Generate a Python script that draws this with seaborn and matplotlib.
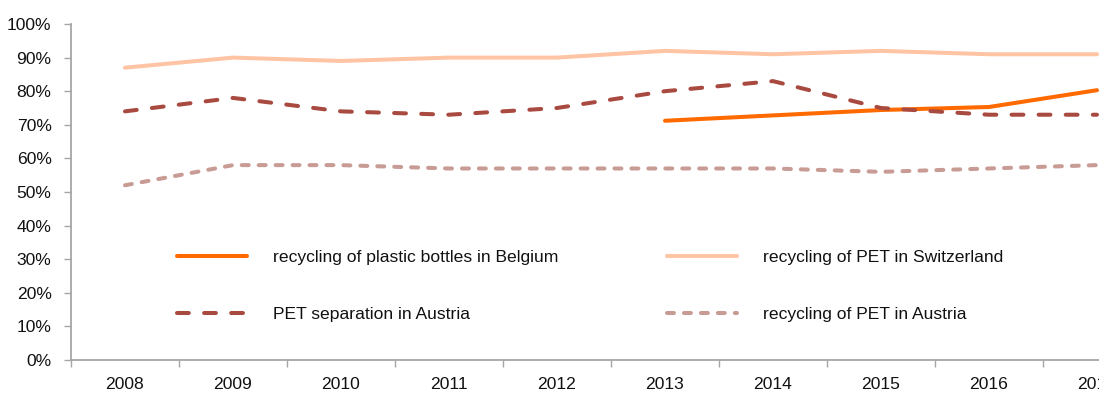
import matplotlib
matplotlib.use("Agg")
import matplotlib.pyplot as plt
import seaborn as sns
import pandas as pd
import numpy as np
from matplotlib.ticker import FixedLocator, FuncFormatter

years = ["2008", "2009", "2010", "2011", "2012", "2013", "2014", "2015", "2016", "2017"]
belgium_bottles = [None, None, None, None, None, 71.2, 72.8, 74.4, 75.3, 80.3]
swiss_pet = [87, 90, 89, 90, 90, 92, 91, 92, 91, 91]
austria_separation = [74, 78, 74, 73, 75, 80, 83, 75, 73, 73]
austria_pet = [52, 58, 58, 57, 57, 57, 57, 56, 57, 58]

series_names = [
    "recycling of plastic bottles in Belgium",
    "PET separation in Austria",
    "recycling of PET in Switzerland",
    "recycling of PET in Austria",
]
series_values = [belgium_bottles, austria_separation, swiss_pet, austria_pet]
colors = ["#FF6A00", "#A84A40", "#FFC4A4", "#C89B95"]
dash_styles = [None, (8.5, 11.0), None, (5.0, 7.2)]

sns.set_theme(style="white")
plt.rcParams["font.family"] = ["Liberation Sans", "DejaVu Sans"]
plt.rcParams["lines.scale_dashes"] = False
FS = 12.6

fig = plt.figure(figsize=(10.99, 3.95), dpi=100)
W, H = 1099, 395
# the plotting area runs past the right edge of the canvas
ax = fig.add_axes([71 / W, 35 / H, 1080 / W, 336 / H])

x = np.arange(len(years))
for name, vals, col, dash in zip(series_names, series_values, colors, dash_styles):
    df = pd.DataFrame({"x": x, "y": pd.array(vals, dtype="Float64").astype(float)})
    df = df.dropna()
    sns.lineplot(data=df, x="x", y="y", ax=ax, color=col, linewidth=2.9,
                 solid_capstyle="round", dash_capstyle="round", label=name)
    if dash is not None:
        ax.lines[-1].set_dashes(dash)
if ax.get_legend() is not None:
    ax.get_legend().remove()

ax.set_xlim(-0.5, len(years) - 0.5)
ax.set_ylim(0, 100)

# category boundaries carry the tick marks; labels sit at the centres
ax.xaxis.set_major_locator(FixedLocator(np.arange(-0.5, len(years), 1.0)))
ax.xaxis.set_minor_locator(FixedLocator(x))
ax.set_xticklabels([])
ax.set_xticklabels(years, minor=True)
ax.tick_params(axis="x", which="major", length=5, width=1, color="#A6A6A6",
               direction="out", bottom=True)
ax.tick_params(axis="x", which="minor", length=0, pad=12, labelsize=FS,
               labelcolor="#111111")

ax.set_yticks(np.arange(0, 101, 10))
ax.yaxis.set_major_formatter(FuncFormatter(lambda v, p: f"{int(v)}%"))
ax.tick_params(axis="y", length=5, width=1, color="#A6A6A6", direction="out",
               left=True, pad=9, labelsize=FS, labelcolor="#111111")

for side in ["top", "right"]:
    ax.spines[side].set_visible(False)
for side in ["left", "bottom"]:
    ax.spines[side].set_color("#A6A6A6")
    ax.spines[side].set_linewidth(1.3)

ax.set_xlabel("")
ax.set_ylabel("")
ax.grid(False)

handles, labels = ax.get_legend_handles_labels()
leg = fig.legend(handles, labels, ncol=2, loc="center left",
                 bbox_to_anchor=(177 / W, 1 - 286 / H), frameon=False,
                 fontsize=FS, handlelength=4.0, handletextpad=1.5,
                 columnspacing=6.2, labelspacing=2.35, borderpad=0,
                 borderaxespad=0)
for t in leg.get_texts():
    t.set_color("#111111")

fig.savefig("out.png", dpi=100)
